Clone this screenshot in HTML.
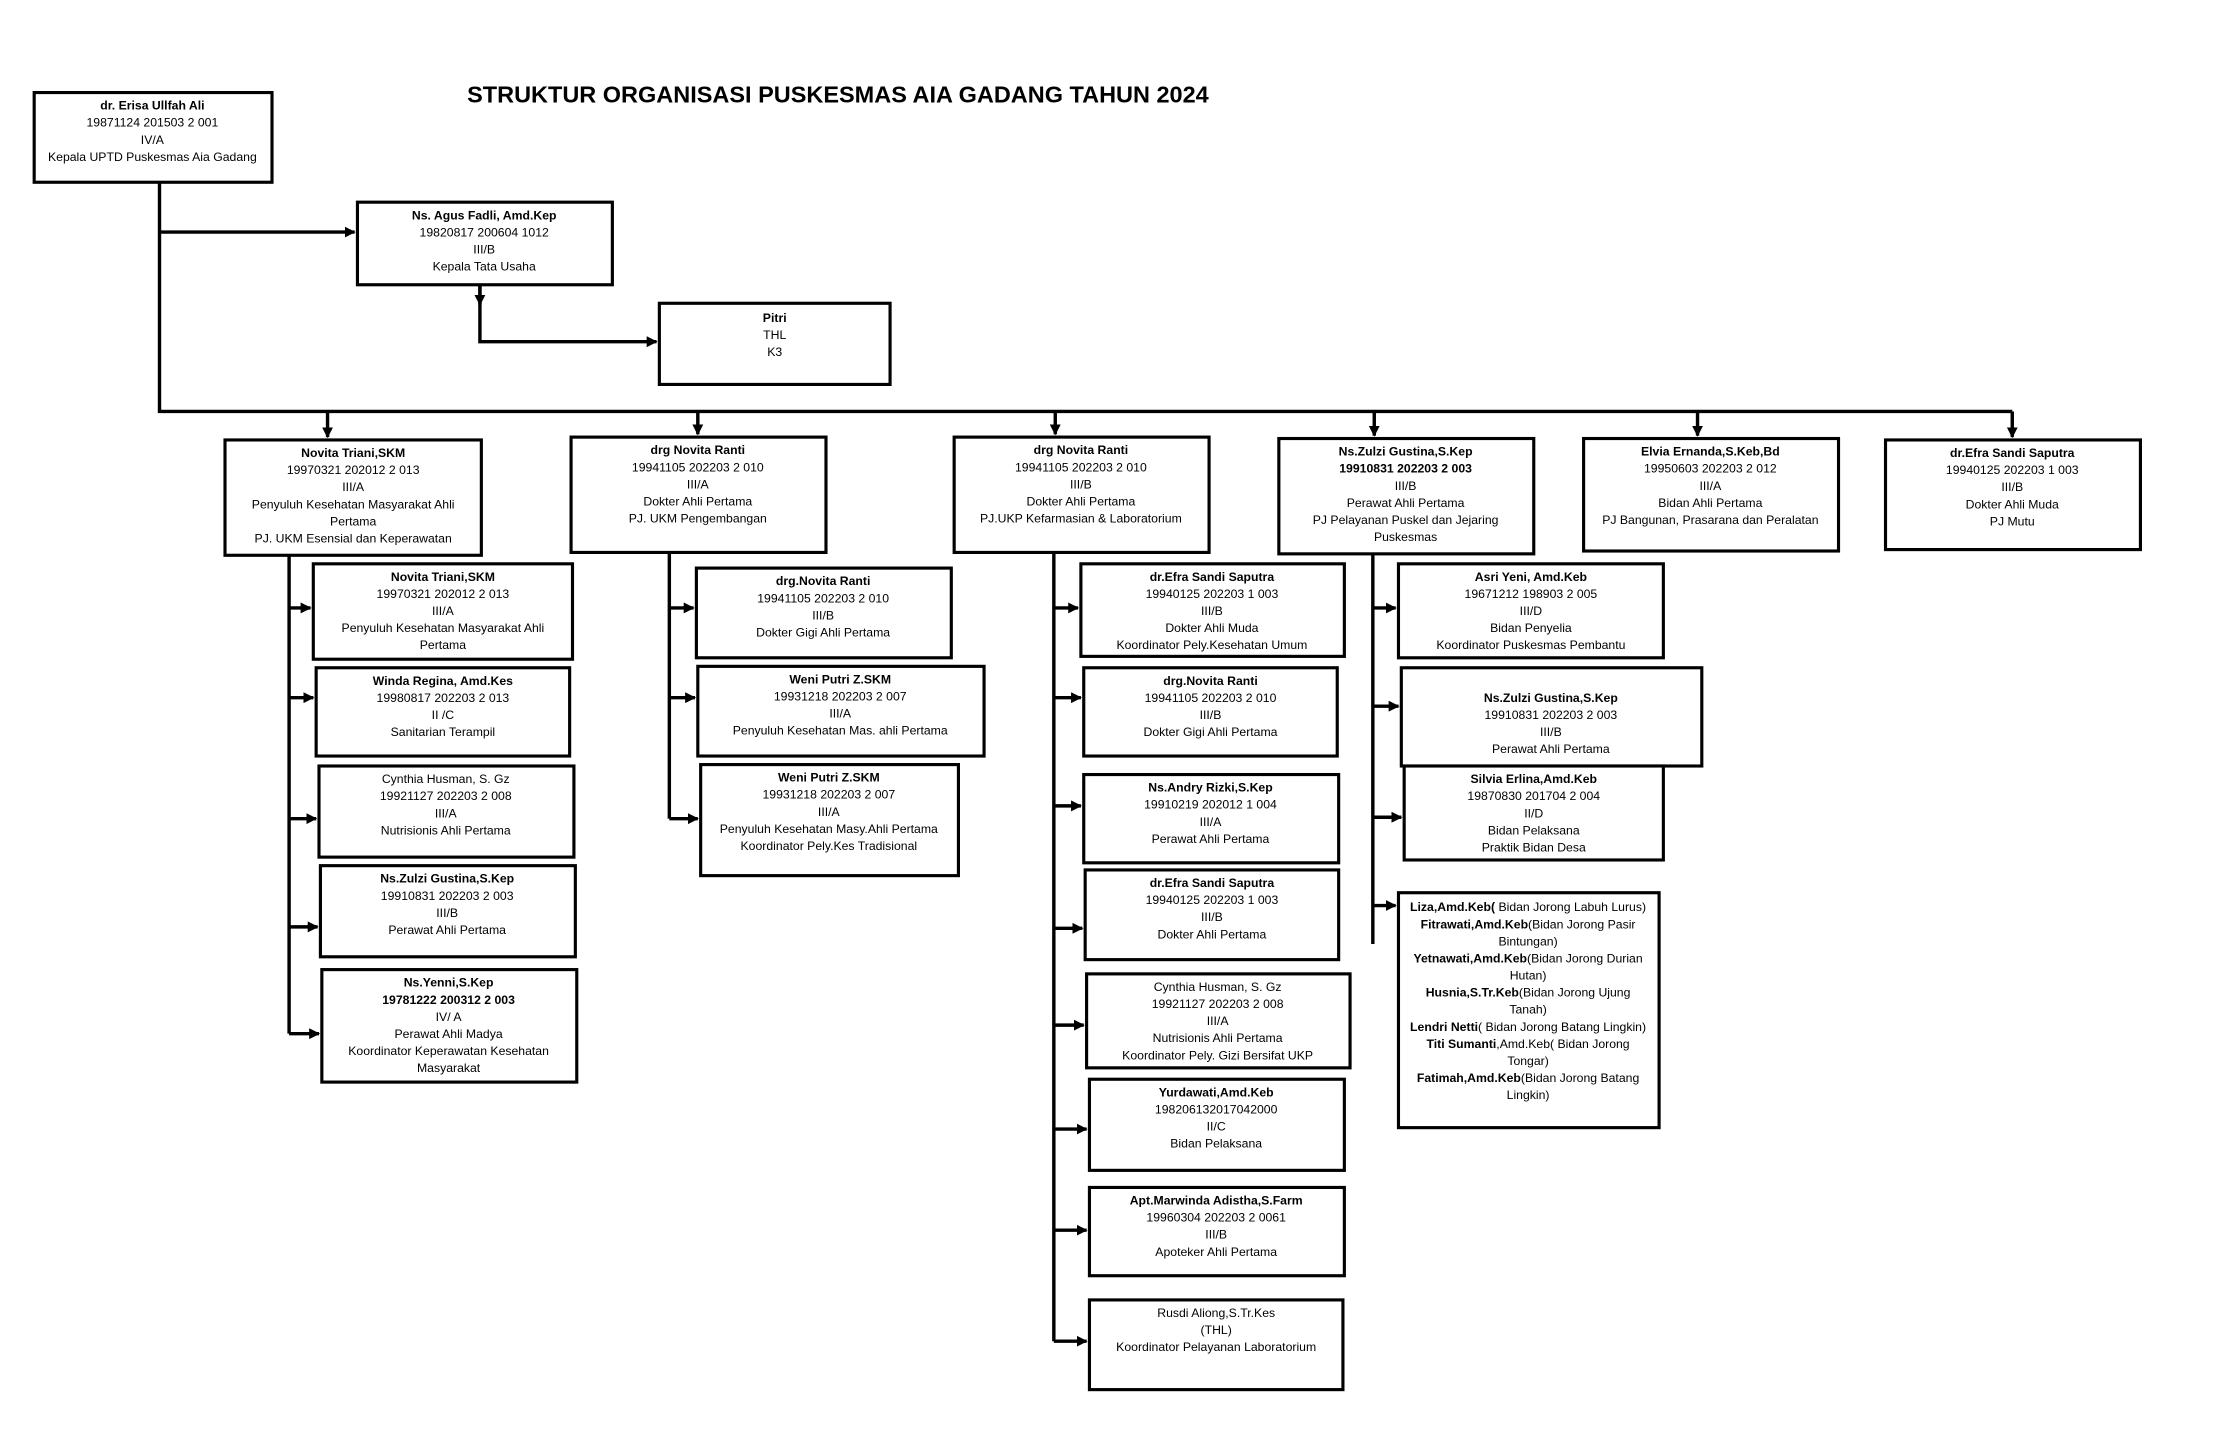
<!DOCTYPE html>
<html><head><meta charset="utf-8"><style>
html,body{margin:0;padding:0;background:#fff;}
svg{display:block;}
text{font-family:"Liberation Sans Narrow","Liberation Sans",sans-serif;font-size:8.6px;fill:#000;text-anchor:middle;}
.b{font-weight:bold;}
.t{font-size:16.5px;font-weight:bold;text-anchor:start;}
rect{fill:#fff;stroke:#000;stroke-width:2.2;}
.l{stroke:#000;stroke-width:2.4;fill:none;}
</style></head><body>
<svg width="2233" height="1448" viewBox="0 0 1568 1017" preserveAspectRatio="none" xmlns="http://www.w3.org/2000/svg">
<defs><marker id="a" viewBox="0 0 10 10" refX="9" refY="5" markerWidth="3.2" markerHeight="3.2" orient="auto"><path d="M0,0L10,5L0,10z" fill="#000"/></marker></defs>
<text class="t" x="328" y="72">STRUKTUR ORGANISASI PUSKESMAS AIA GADANG TAHUN 2024</text>
<path class="l" d="M112,128V289H1413"/>
<path class="l" d="M112,163H249" marker-end="url(#a)" stroke-width="3"/>
<path class="l" d="M337,200V240H461" marker-end="url(#a)"/>
<path class="l" d="M337,200V214" marker-end="url(#a)"/>
<path class="l" d="M230,289V307" marker-end="url(#a)"/>
<path class="l" d="M490,289V305" marker-end="url(#a)"/>
<path class="l" d="M741,289V305" marker-end="url(#a)"/>
<path class="l" d="M965,289V306" marker-end="url(#a)"/>
<path class="l" d="M1192,289V306" marker-end="url(#a)"/>
<path class="l" d="M1413,289V307" marker-end="url(#a)"/>
<path class="l" d="M203,390V726"/>
<path class="l" d="M203,427H218" marker-end="url(#a)"/><path class="l" d="M203,490H220" marker-end="url(#a)"/><path class="l" d="M203,575H222" marker-end="url(#a)"/><path class="l" d="M203,651H223" marker-end="url(#a)"/><path class="l" d="M203,726H224" marker-end="url(#a)"/>
<path class="l" d="M470,388V575"/>
<path class="l" d="M470,427H487" marker-end="url(#a)"/><path class="l" d="M470,490H488" marker-end="url(#a)"/><path class="l" d="M470,575H490" marker-end="url(#a)"/>
<path class="l" d="M740,388V942"/>
<path class="l" d="M740,427H757" marker-end="url(#a)"/><path class="l" d="M740,490H759" marker-end="url(#a)"/><path class="l" d="M740,566H759" marker-end="url(#a)"/><path class="l" d="M740,652H760" marker-end="url(#a)"/><path class="l" d="M740,720H761" marker-end="url(#a)"/><path class="l" d="M740,793H763" marker-end="url(#a)"/><path class="l" d="M740,864H763" marker-end="url(#a)"/><path class="l" d="M740,942H763" marker-end="url(#a)"/>
<path class="l" d="M964,389V663"/>
<path class="l" d="M964,427H980" marker-end="url(#a)"/><path class="l" d="M964,496H982" marker-end="url(#a)"/><path class="l" d="M964,574H984" marker-end="url(#a)"/><path class="l" d="M964,636H980" marker-end="url(#a)"/>

<rect x="24" y="65" width="167" height="63"/>
<text x="107" y="77" class="b">dr. Erisa Ullfah Ali</text><text x="107" y="89">19871124 201503  2 001</text><text x="107" y="101">IV/A</text><text x="107" y="113">Kepala UPTD Puskesmas Aia Gadang</text>

<rect x="251" y="142" width="179" height="58"/>
<text x="340" y="154" class="b">Ns. Agus Fadli, Amd.Kep</text><text x="340" y="166">19820817 200604 1012</text><text x="340" y="178">III/B</text><text x="340" y="190">Kepala  Tata Usaha</text>

<rect x="463" y="213" width="162" height="57"/>
<text x="544" y="226" class="b">Pitri</text><text x="544" y="238">THL</text><text x="544" y="250">K3</text>

<rect x="158" y="309" width="180" height="81"/>
<text x="248" y="321" class="b">Novita Triani,SKM</text><text x="248" y="333">19970321 202012 2 013</text><text x="248" y="345">III/A</text><text x="248" y="357">Penyuluh Kesehatan Masyarakat Ahli</text><text x="248" y="369">Pertama</text><text x="248" y="381">PJ. UKM Esensial dan Keperawatan</text>

<rect x="401" y="307" width="179" height="81"/>
<text x="490" y="319" class="b">drg Novita Ranti</text><text x="490" y="331">19941105 202203 2 010</text><text x="490" y="343">III/A</text><text x="490" y="355">Dokter Ahli Pertama</text><text x="490" y="367">PJ. UKM Pengembangan</text>

<rect x="670" y="307" width="179" height="81"/>
<text x="759" y="319" class="b">drg Novita Ranti</text><text x="759" y="331">19941105 202203 2 010</text><text x="759" y="343">III/B</text><text x="759" y="355">Dokter Ahli Pertama</text><text x="759" y="367">PJ.UKP Kefarmasian &amp; Laboratorium</text>

<rect x="898" y="308" width="179" height="81"/>
<text x="987" y="320" class="b">Ns.Zulzi Gustina,S.Kep</text><text x="987" y="332" class="b">19910831 202203 2 003</text><text x="987" y="344">III/B</text><text x="987" y="356">Perawat Ahli Pertama</text><text x="987" y="368">PJ Pelayanan Puskel dan Jejaring</text><text x="987" y="380">Puskesmas</text>

<rect x="1112" y="308" width="179" height="79"/>
<text x="1201" y="320" class="b">Elvia Ernanda,S.Keb,Bd</text><text x="1201" y="332">19950603 202203 2 012</text><text x="1201" y="344">III/A</text><text x="1201" y="356">Bidan Ahli Pertama</text><text x="1201" y="368">PJ Bangunan, Prasarana dan Peralatan</text>

<rect x="1324" y="309" width="179" height="77"/>
<text x="1413" y="321" class="b">dr.Efra Sandi Saputra</text><text x="1413" y="333">19940125 202203 1 003</text><text x="1413" y="345">III/B</text><text x="1413" y="357">Dokter Ahli Muda</text><text x="1413" y="369">PJ Mutu</text>

<rect x="220" y="396" width="182" height="67"/>
<text x="311" y="408" class="b">Novita Triani,SKM</text><text x="311" y="420">19970321 202012 2 013</text><text x="311" y="432">III/A</text><text x="311" y="444">Penyuluh Kesehatan Masyarakat Ahli</text><text x="311" y="456">Pertama</text>
<rect x="222" y="469" width="178" height="62"/>
<text x="311" y="481" class="b">Winda Regina, Amd.Kes</text><text x="311" y="493">19980817 202203 2 013</text><text x="311" y="505">II /C</text><text x="311" y="517">Sanitarian Terampil</text>
<rect x="224" y="538" width="179" height="64"/>
<text x="313" y="550">Cynthia Husman, S. Gz</text><text x="313" y="562">19921127 202203 2 008</text><text x="313" y="574">III/A</text><text x="313" y="586">Nutrisionis Ahli Pertama</text>
<rect x="225" y="608" width="179" height="64"/>
<text x="314" y="620" class="b">Ns.Zulzi Gustina,S.Kep</text><text x="314" y="632">19910831 202203 2 003</text><text x="314" y="644">III/B</text><text x="314" y="656">Perawat Ahli Pertama</text>
<rect x="226" y="681" width="179" height="79"/>
<text x="315" y="693" class="b">Ns.Yenni,S.Kep</text><text x="315" y="705" class="b">19781222 200312 2 003</text><text x="315" y="717">IV/ A</text><text x="315" y="729">Perawat  Ahli Madya</text><text x="315" y="741">Koordinator Keperawatan Kesehatan</text><text x="315" y="753">Masyarakat</text>

<rect x="489" y="399" width="179" height="63"/>
<text x="578" y="411" class="b">drg.Novita Ranti</text><text x="578" y="423">19941105 202203 2 010</text><text x="578" y="435">III/B</text><text x="578" y="447">Dokter Gigi Ahli Pertama</text>
<rect x="490" y="468" width="201" height="63"/>
<text x="590" y="480" class="b">Weni Putri Z.SKM</text><text x="590" y="492">19931218 202203 2 007</text><text x="590" y="504">III/A</text><text x="590" y="516">Penyuluh Kesehatan Mas. ahli Pertama</text>
<rect x="492" y="537" width="181" height="78"/>
<text x="582" y="549" class="b">Weni Putri Z.SKM</text><text x="582" y="561">19931218 202203 2 007</text><text x="582" y="573">III/A</text><text x="582" y="585">Penyuluh Kesehatan Masy.Ahli Pertama</text><text x="582" y="597">Koordinator Pely.Kes Tradisional</text>

<rect x="759" y="396" width="185" height="65"/>
<text x="851" y="408" class="b">dr.Efra Sandi Saputra</text><text x="851" y="420">19940125 202203 1 003</text><text x="851" y="432">III/B</text><text x="851" y="444">Dokter Ahli Muda</text><text x="851" y="456">Koordinator Pely.Kesehatan Umum</text>
<rect x="761" y="469" width="178" height="62"/>
<text x="850" y="481" class="b">drg.Novita Ranti</text><text x="850" y="493">19941105 202203 2 010</text><text x="850" y="505">III/B</text><text x="850" y="517">Dokter Gigi Ahli Pertama</text>
<rect x="761" y="544" width="179" height="62"/>
<text x="850" y="556" class="b">Ns.Andry Rizki,S.Kep</text><text x="850" y="568">19910219 202012 1 004</text><text x="850" y="580">III/A</text><text x="850" y="592">Perawat Ahli Pertama</text>
<rect x="762" y="611" width="178" height="63"/>
<text x="851" y="623" class="b">dr.Efra Sandi Saputra</text><text x="851" y="635">19940125 202203 1 003</text><text x="851" y="647">III/B</text><text x="851" y="659">Dokter Ahli Pertama</text>
<rect x="763" y="684" width="185" height="66"/>
<text x="855" y="696">Cynthia Husman, S. Gz</text><text x="855" y="708">19921127 202203 2 008</text><text x="855" y="720">III/A</text><text x="855" y="732">Nutrisionis Ahli Pertama</text><text x="855" y="744">Koordinator Pely. Gizi Bersifat UKP</text>
<rect x="765" y="758" width="179" height="64"/>
<text x="854" y="770" class="b">Yurdawati,Amd.Keb</text><text x="854" y="782">198206132017042000</text><text x="854" y="794">II/C</text><text x="854" y="806">Bidan Pelaksana</text>
<rect x="765" y="834" width="179" height="62"/>
<text x="854" y="846" class="b">Apt.Marwinda Adistha,S.Farm</text><text x="854" y="858">19960304 202203 2 0061</text><text x="854" y="870">III/B</text><text x="854" y="882">Apoteker Ahli Pertama</text>
<rect x="765" y="913" width="178" height="63"/>
<text x="854" y="925">Rusdi Aliong,S.Tr.Kes</text><text x="854" y="937">(THL)</text><text x="854" y="949">Koordinator Pelayanan Laboratorium</text>

<rect x="982" y="396" width="186" height="66"/>
<text x="1075" y="408" class="b">Asri Yeni, Amd.Keb</text><text x="1075" y="420">19671212 198903 2 005</text><text x="1075" y="432">III/D</text><text x="1075" y="444">Bidan Penyelia</text><text x="1075" y="456">Koordinator Puskesmas Pembantu</text>
<rect x="984" y="469" width="211" height="69"/>
<text x="1089" y="493" class="b">Ns.Zulzi Gustina,S.Kep</text><text x="1089" y="505">19910831 202203 2 003</text><text x="1089" y="517">III/B</text><text x="1089" y="529">Perawat Ahli Pertama</text>
<rect x="986" y="538" width="182" height="66"/>
<text x="1077" y="550" class="b">Silvia Erlina,Amd.Keb</text><text x="1077" y="562">19870830 201704 2 004</text><text x="1077" y="574">II/D</text><text x="1077" y="586">Bidan Pelaksana</text><text x="1077" y="598">Praktik Bidan Desa</text>
<rect x="982" y="627" width="183" height="165"/>
<text x="1073" y="640"><tspan class="b">Liza,Amd.Keb(</tspan> Bidan Jorong Labuh Lurus)</text>
<text x="1073" y="652"><tspan class="b">Fitrawati,Amd.Keb</tspan>(Bidan Jorong Pasir</text>
<text x="1073" y="664">Bintungan)</text>
<text x="1073" y="676"><tspan class="b">Yetnawati,Amd.Keb</tspan>(Bidan Jorong Durian</text>
<text x="1073" y="688">Hutan)</text>
<text x="1073" y="700"><tspan class="b">Husnia,S.Tr.Keb</tspan>(Bidan Jorong Ujung</text>
<text x="1073" y="712">Tanah)</text>
<text x="1073" y="724"><tspan class="b">Lendri Netti</tspan>( Bidan Jorong Batang Lingkin)</text>
<text x="1073" y="736"><tspan class="b">Titi Sumanti</tspan>,Amd.Keb( Bidan Jorong</text>
<text x="1073" y="748">Tongar)</text>
<text x="1073" y="760"><tspan class="b">Fatimah,Amd.Keb</tspan>(Bidan Jorong Batang</text>
<text x="1073" y="772">Lingkin)</text>
</svg>
</body></html>
